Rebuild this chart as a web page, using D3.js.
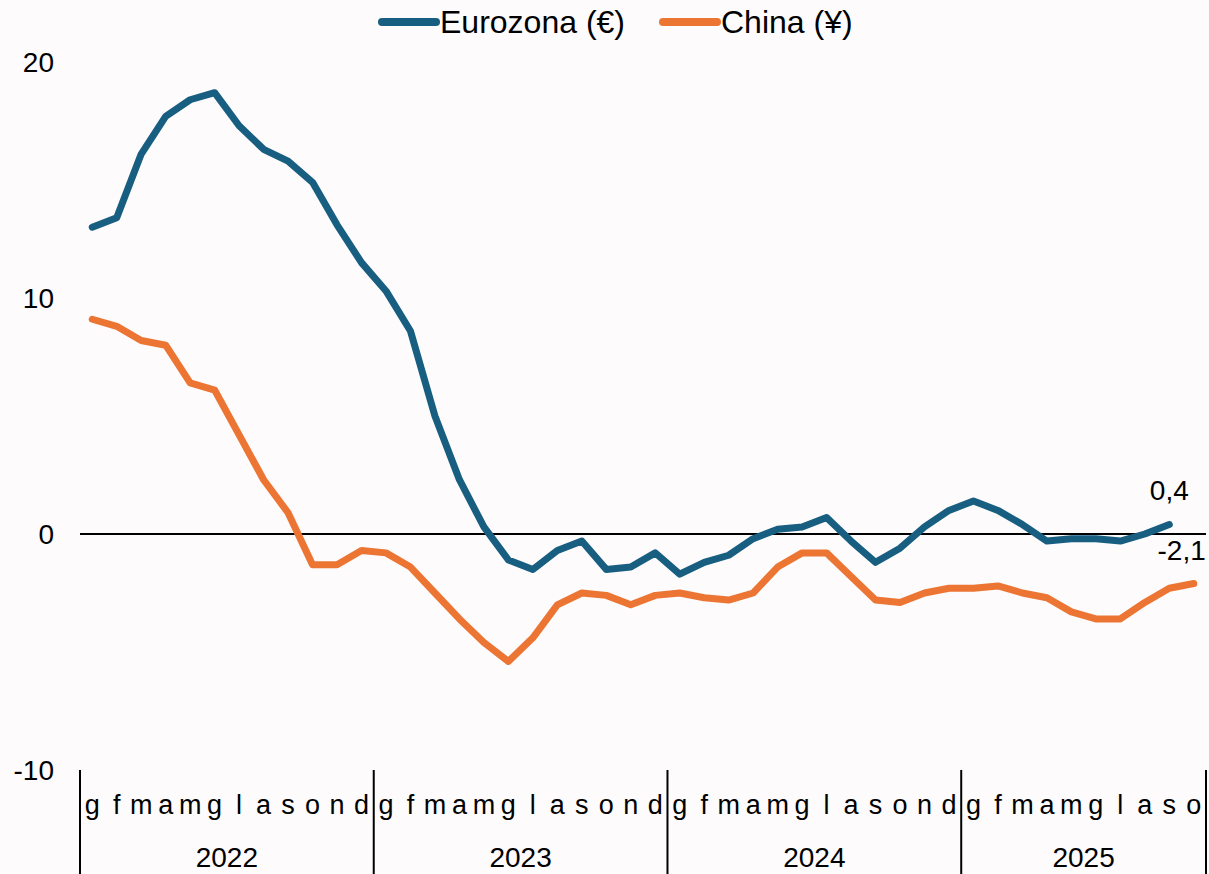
<!DOCTYPE html>
<html>
<head>
<meta charset="utf-8">
<script src="https://cdn.jsdelivr.net/npm/d3@7"></script>
<style>
    body { margin: 0; background: #fdfbfc; }
    svg { display: block; font-family: "Liberation Sans", Arial, sans-serif; }
</style>
</head>
<body>
<svg id="chart"></svg>
<script>
const monthLabels = ["g", "f", "m", "a", "m", "g", "l", "a", "s", "o", "n", "d"];
const years = [2022, 2023, 2024, 2025];
const monthsIn2025 = 10;
const yTicks = [-10, 0, 10, 20];

const eurozona = [13.0, 13.4, 16.1, 17.7, 18.4, 18.7, 17.3, 16.3, 15.8, 14.9, 13.1, 11.5,
    10.3, 8.6, 5.0, 2.3, 0.3, -1.1, -1.5, -0.7, -0.3, -1.5, -1.4, -0.8,
    -1.7, -1.2, -0.9, -0.2, 0.2, 0.3, 0.7, -0.3, -1.2, -0.6, 0.3, 1.0,
    1.4, 1.0, 0.4, -0.3, -0.2, -0.2, -0.3, 0.0, 0.4];
const china = [9.1, 8.8, 8.2, 8.0, 6.4, 6.1, 4.2, 2.3, 0.9, -1.3, -1.3, -0.7,
    -0.8, -1.4, -2.5, -3.6, -4.6, -5.4, -4.4, -3.0, -2.5, -2.6, -3.0, -2.6,
    -2.5, -2.7, -2.8, -2.5, -1.4, -0.8, -0.8, -1.8, -2.8, -2.9, -2.5, -2.3,
    -2.3, -2.2, -2.5, -2.7, -3.3, -3.6, -3.6, -2.9, -2.3, -2.1];

const series = [
    { name: "Eurozona (€)", values: eurozona, color: "#175e80", label: "0,4" },
    { name: "China (¥)", values: china, color: "#ec7533", label: "-2,1" }
];

// one entry per month on the axis
const months = [];
years.forEach(yr => {
    const n = yr === 2025 ? monthsIn2025 : 12;
    for (let m = 0; m < n; m++) months.push({ year: yr, m: m, key: yr + "-" + m });
});

const width = 1209, height = 874;
const svg = d3.select("#chart").attr("width", width).attr("height", height);

const x = d3.scaleBand()
    .domain(months.map(d => d.key))
    .range([80, 1206])
    .padding(0);
const xc = i => x(months[i].key) + x.bandwidth() / 2;

const y = d3.scaleLinear()
    .domain([-10, 20])
    .range([770, 62]);

// y tick labels
svg.append("g")
    .selectAll("text")
    .data(yTicks)
    .join("text")
    .attr("x", 54)
    .attr("y", d => y(d))
    .attr("dy", "0.35em")
    .attr("text-anchor", "end")
    .attr("font-size", 28)
    .text(d => d);

// zero line
svg.append("line")
    .attr("x1", 80).attr("x2", 1206)
    .attr("y1", y(0)).attr("y2", y(0))
    .attr("stroke", "#000")
    .attr("stroke-width", 2);

// month labels
svg.append("g")
    .selectAll("text")
    .data(months)
    .join("text")
    .attr("x", d => x(d.key) + x.bandwidth() / 2)
    .attr("y", 805)
    .attr("dy", "0.35em")
    .attr("text-anchor", "middle")
    .attr("font-size", 27)
    .text(d => monthLabels[d.m]);

// year groups
const yearRange = yr => {
    const ms = months.filter(d => d.year === yr);
    return [x(ms[0].key), x(ms[ms.length - 1].key) + x.bandwidth()];
};

svg.append("g")
    .selectAll("text")
    .data(years)
    .join("text")
    .attr("x", d => d3.mean(yearRange(d)))
    .attr("y", 857)
    .attr("dy", "0.35em")
    .attr("text-anchor", "middle")
    .attr("font-size", 28)
    .text(d => d);

const seps = years.map(d => yearRange(d)[0]).concat([yearRange(2025)[1]]);
svg.append("g")
    .selectAll("line")
    .data(seps)
    .join("line")
    .attr("x1", d => d).attr("x2", d => d)
    .attr("y1", y(-10)).attr("y2", height)
    .attr("stroke", "#000")
    .attr("stroke-width", 2);

// lines
const line = d3.line()
    .x((d, i) => xc(i))
    .y(d => y(d));

svg.append("g")
    .selectAll("path")
    .data(series)
    .join("path")
    .attr("d", d => line(d.values))
    .attr("fill", "none")
    .attr("stroke", d => d.color)
    .attr("stroke-width", 7)
    .attr("stroke-linejoin", "round")
    .attr("stroke-linecap", "round");

// end labels
const euLast = eurozona.length - 1;
svg.append("text")
    .attr("x", xc(euLast))
    .attr("y", y(eurozona[euLast]) - 34)
    .attr("dy", "0.35em")
    .attr("text-anchor", "middle")
    .attr("font-size", 28)
    .text(series[0].label);

const cnLast = china.length - 1;
svg.append("text")
    .attr("x", xc(cnLast) + 12)
    .attr("y", y(china[cnLast]) - 33)
    .attr("dy", "0.35em")
    .attr("text-anchor", "end")
    .attr("font-size", 28)
    .text(series[1].label);

// legend
const legend = svg.append("g");
const legendPos = [382, 663];
series.forEach((s, i) => {
    const g = legend.append("g").attr("transform", `translate(${legendPos[i]}, 22)`);
    g.append("line")
        .attr("x1", 0).attr("x2", 54)
        .attr("stroke", s.color)
        .attr("stroke-width", 8)
        .attr("stroke-linecap", "round");
    g.append("text")
        .attr("x", 58)
        .attr("dy", "0.35em")
        .attr("font-size", 32)
        .text(s.name);
});
</script>
</body>
</html>
